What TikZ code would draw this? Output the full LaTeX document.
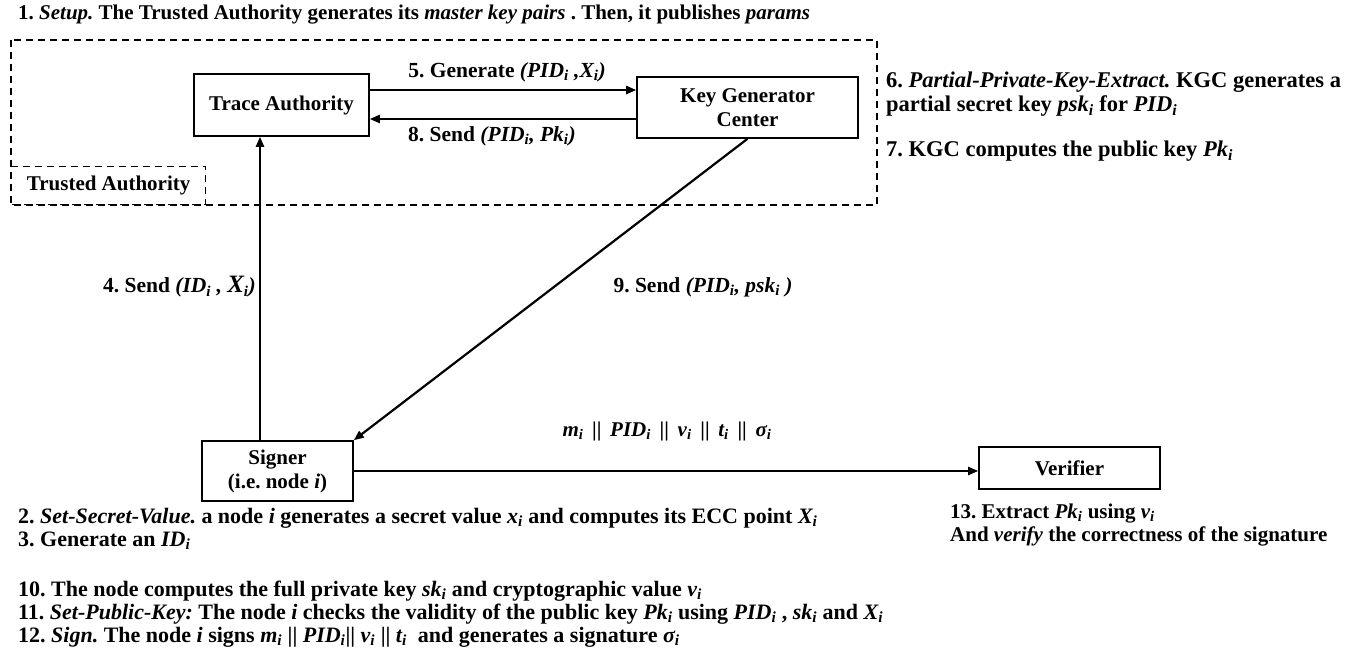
\documentclass[tikz,border=0pt]{standalone}
\usepackage{fontspec}
\setmainfont{Liberation Serif}
\usetikzlibrary{arrows.meta}
\newcommand\sbi[1]{\textsubscript{\itshape #1}}
\begin{document}
\frenchspacing
\begin{tikzpicture}[x=1pt,y=-1pt,
  every node/.style={font=\fontsize{21.5}{24}\selectfont\bfseries, inner sep=0pt},
  boxfont/.style={font=\fontsize{21}{24}\selectfont\bfseries},
  stepfont/.style={font=\fontsize{22}{23}\selectfont\bfseries},
  box/.style={draw, line width=1.6pt, align=center, boxfont},
  dashbox/.style={draw, line width=1.3pt, dash pattern=on 7pt off 5pt},
  arr/.style={line width=2.2pt, -{Triangle[length=10pt,width=8pt]}},
  txt/.style={anchor=base west, stepfont}]
\useasboundingbox (0,0) rectangle (1351,655);

% trusted authority region
\coordinate (ta-nw) at (11,40);
\coordinate (ta-se) at (877,205);
\draw[dashbox] (ta-nw) rectangle (ta-se);
\node[dashbox, boxfont, minimum width=194pt, minimum height=38pt, anchor=south west]
  (trusted) at (11,205) {Trusted Authority};

% entities
\node[box, minimum width=175pt, minimum height=62pt] (ta) at (281.5,105) {Trace Authority};
\node[box, minimum width=221pt, minimum height=61pt] (kgc) at (747.5,107.5) {Key Generator\\Center};
\node[box, minimum width=151pt, minimum height=60pt] (signer) at (277.5,471) {Signer\\(i.e. node \textit{i})};
\node[box, minimum width=181pt, minimum height=42pt] (verifier) at (1069.5,468) {Verifier};

% connector rails
\coordinate (r5) at (0,90);
\coordinate (r8) at (0,119);
\coordinate (r4) at (260,0);

\draw[arr] (ta.east |- r5) -- (kgc.west |- r5);
\draw[arr] (kgc.west |- r8) -- (ta.east |- r8);
\draw[arr] (signer.north -| r4) -- (ta.south -| r4);
\draw[arr] (kgc.south) -- (signer.north east);
\draw[arr] (signer.east) -- (verifier.west |- signer.east);

% connector labels
\node (l5) at (507,72) {5. Generate \textit{(PID\sbi{i} ,X\sbi{i})}};
\node (l8) at (492,136) {8. Send \textit{(PID\sbi{i}, Pk\sbi{i})}};
\node[anchor=east] (l4) at (256,287) {4. Send \textit{(ID\sbi{i} , {\fontsize{25}{25}\selectfont X}\sbi{i})}};
\node (l9) at (703,287) {9. Send \textit{(PID\sbi{i}, psk\sbi{i} )}};
\node[boxfont] (lm) at (667,431) {\textit{m\sbi{i}} \,||\, \textit{PID\sbi{i}} \,||\, \textit{v\sbi{i}} \,||\, \textit{t\sbi{i}} \,||\, \textit{σ\sbi{i}}};

% step descriptions
\node[anchor=base west, font=\fontsize{21}{22}\selectfont\bfseries] (s1) at (18,20)
  {1. \textit{Setup.} The Trusted Authority generates its \textit{master key pairs} . Then, it publishes \textit{params}};
\node[txt, font=\fontsize{22.5}{23}\selectfont\bfseries] (s6a) at (886,88) {6. \textit{Partial-Private-Key-Extract.} KGC generates a};
\node[txt, font=\fontsize{22.5}{23}\selectfont\bfseries] (s6b) at (886,112) {partial secret key \textit{psk\sbi{i}} for \textit{PID\sbi{i}}};
\node[txt, font=\fontsize{22.5}{23}\selectfont\bfseries] (s7) at (886,157) {7. KGC computes the public key \textit{Pk\sbi{i}}};
\node[txt] (s2) at (18,523) {2. \textit{Set-Secret-Value.} a node \textit{i} generates a secret value \textit{x\sbi{i}} and computes its ECC point \textit{X\sbi{i}}};
\node[txt] (s3) at (18,546) {3. Generate an \textit{ID\sbi{i}}};
\node[txt] (s10) at (18,596) {10. The node computes the full private key \textit{sk\sbi{i}} and cryptographic value \textit{v\sbi{i}}};
\node[txt] (s11) at (18,619) {11. \textit{Set-Public-Key:} The node \textit{i} checks the validity of the public key \textit{Pk\sbi{i}} using \textit{PID\sbi{i}} , \textit{sk\sbi{i}} and \textit{X\sbi{i}}};
\node[txt] (s12) at (18,642) {12. \textit{Sign.} The node \textit{i} signs \textit{m\sbi{i}} || \textit{PID\sbi{i}}|| \textit{v\sbi{i}} || \textit{t\sbi{i}}\ \ and generates a signature \textit{σ\sbi{i}}};
\node[txt, font=\fontsize{21}{23}\selectfont\bfseries] (s13a) at (950,518) {13. Extract \textit{Pk\sbi{i}} using \textit{v\sbi{i}}};
\node[txt, font=\fontsize{21}{23}\selectfont\bfseries] (s13b) at (950,541) {And \textit{verify} the correctness of the signature};
\end{tikzpicture}
\end{document}
